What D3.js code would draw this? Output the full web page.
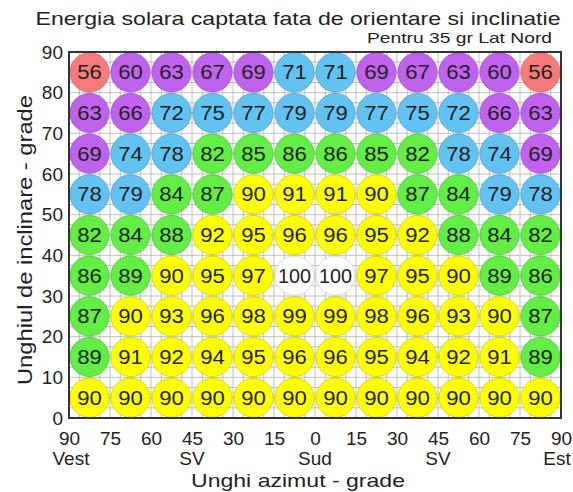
<!DOCTYPE html>
<html lang="ro">
<head>
<meta charset="UTF-8">
<title>Energia solara captata</title>
<style>
    body { margin: 0; padding: 0; background: #fff; }
    svg text { font-family: "Liberation Sans", Arial, sans-serif; fill: #222; }
    .axis .domain { display: none; }
    .axis line { display: none; }
</style>
</head>
<body>
<script src="https://d3js.org/d3.v7.min.js"></script>
<script>
// azimut (negativ = Vest, pozitiv = Est), centrele coloanelor
const azimuths = [-82.5, -67.5, -52.5, -37.5, -22.5, -7.5, 7.5, 22.5, 37.5, 52.5, 67.5, 82.5];
// inclinare, centrele randurilor de sus in jos
const tilts = [85, 75, 65, 55, 45, 35, 25, 15, 5];

const row85 = [56, 60, 63, 67, 69, 71, 71, 69, 67, 63, 60, 56];
const row75 = [63, 66, 72, 75, 77, 79, 79, 77, 75, 72, 66, 63];
const row65 = [69, 74, 78, 82, 85, 86, 86, 85, 82, 78, 74, 69];
const row55 = [78, 79, 84, 87, 90, 91, 91, 90, 87, 84, 79, 78];
const row45 = [82, 84, 88, 92, 95, 96, 96, 95, 92, 88, 84, 82];
const row35 = [86, 89, 90, 95, 97, 100, 100, 97, 95, 90, 89, 86];
const row25 = [87, 90, 93, 96, 98, 99, 99, 98, 96, 93, 90, 87];
const row15 = [89, 91, 92, 94, 95, 96, 96, 95, 94, 92, 91, 89];
const row5  = [90, 90, 90, 90, 90, 90, 90, 90, 90, 90, 90, 90];
const rows = [row85, row75, row65, row55, row45, row35, row25, row15, row5];

const xTicks = [-90, -75, -60, -45, -30, -15, 0, 15, 30, 45, 60, 75, 90];
const yTicks = [0, 10, 20, 30, 40, 50, 60, 70, 80, 90];
const directions = [[-90, "Vest"], [-45, "SV"], [0, "Sud"], [45, "SV"], [90, "Est"]];

const W = 573, H = 492;
const plotLeft = 69, plotRight = 561, plotTop = 52, plotBottom = 418;

const svg = d3.select("body").append("svg")
    .attr("width", W)
    .attr("height", H);

const x = d3.scaleLinear().domain([-90, 90]).range([plotLeft, plotRight]);
const y = d3.scaleLinear().domain([0, 90]).range([plotBottom, plotTop]);

// culoare dupa clasa de valori
const color = d3.scaleThreshold()
    .domain([60, 70, 80, 90, 100])
    .range(["#f77b7b", "#c062ee", "#62c3f2", "#62ee44", "#ffff00", "#ffffff"]);

// grila fina din spate
const grid = svg.append("g");
grid.selectAll(".gx")
    .data(d3.range(-90, 90.01, 3.75))
    .enter().append("line")
    .attr("x1", d => x(d)).attr("x2", d => x(d))
    .attr("y1", plotTop).attr("y2", plotBottom)
    .attr("stroke", "#b0b0b0").attr("stroke-width", 0.8);
grid.selectAll(".gy")
    .data(d3.range(0, 90.01, 2.5))
    .enter().append("line")
    .attr("x1", plotLeft).attr("x2", plotRight)
    .attr("y1", d => y(d)).attr("y2", d => y(d))
    .attr("stroke", "#b0b0b0").attr("stroke-width", 0.8);

// cercurile cu valori
const cells = [];
rows.forEach((r, i) => r.forEach((v, j) => cells.push({ az: azimuths[j], tilt: tilts[i], v: v })));

const radius = 19.6;
const g = svg.append("g");
g.selectAll("circle")
    .data(cells)
    .enter().append("circle")
    .attr("cx", d => x(d.az))
    .attr("cy", d => y(d.tilt))
    .attr("r", radius)
    .attr("fill", d => color(d.v))
    .attr("stroke", d => d3.color(color(d.v)).darker(0.6))
    .attr("stroke-width", 0.8);

g.selectAll("text")
    .data(cells)
    .enter().append("text")
    .attr("x", d => x(d.az))
    .attr("y", d => y(d.tilt) + 7)
    .attr("text-anchor", "middle")
    .attr("textLength", d => d.v >= 100 ? 33 : 24.6)
    .attr("lengthAdjust", "spacingAndGlyphs")
    .style("font-size", "20px")
    .text(d => d.v);

// chenarul
svg.append("rect")
    .attr("x", plotLeft).attr("y", plotTop)
    .attr("width", plotRight - plotLeft).attr("height", plotBottom - plotTop)
    .attr("fill", "none")
    .attr("stroke", "#333")
    .attr("stroke-width", 2);

// axa x
svg.append("g")
    .attr("class", "axis")
    .attr("transform", "translate(0," + (plotBottom + 10) + ")")
    .call(d3.axisBottom(x).tickValues(xTicks).tickSize(0).tickFormat(d => Math.abs(d)))
    .selectAll("text")
    .style("font-size", "19px")
    .attr("fill", "#222");

svg.append("g").selectAll("text")
    .data(directions)
    .enter().append("text")
    .attr("x", d => x(d[0]) + (d[0] === 90 ? -4 : d[0] === -90 ? 2 : 0))
    .attr("y", 465)
    .attr("text-anchor", "middle")
    .style("font-size", "19px")
    .text(d => d[1]);

// axa y
svg.append("g")
    .attr("class", "axis")
    .attr("transform", "translate(" + (plotLeft - 3) + ",0)")
    .call(d3.axisLeft(y).tickValues(yTicks).tickSize(0))
    .selectAll("text")
    .style("font-size", "19px")
    .attr("fill", "#222");

// titluri
svg.append("text")
    .attr("x", 298)
    .attr("y", 25)
    .attr("text-anchor", "middle")
    .attr("textLength", 525)
    .attr("lengthAdjust", "spacingAndGlyphs")
    .style("font-size", "19px")
    .text("Energia solara captata fata de orientare si inclinatie");

svg.append("text")
    .attr("x", 552)
    .attr("y", 43)
    .attr("text-anchor", "end")
    .attr("textLength", 185)
    .attr("lengthAdjust", "spacingAndGlyphs")
    .style("font-size", "15px")
    .text("Pentru 35 gr Lat Nord");

svg.append("text")
    .attr("x", 298)
    .attr("y", 487)
    .attr("text-anchor", "middle")
    .attr("textLength", 214)
    .attr("lengthAdjust", "spacingAndGlyphs")
    .style("font-size", "19px")
    .text("Unghi azimut - grade");

svg.append("text")
    .attr("transform", "rotate(-90)")
    .attr("x", -240)
    .attr("y", 32)
    .attr("text-anchor", "middle")
    .attr("textLength", 290)
    .attr("lengthAdjust", "spacingAndGlyphs")
    .style("font-size", "20px")
    .text("Unghiul de inclinare - grade");
</script>
</body>
</html>
